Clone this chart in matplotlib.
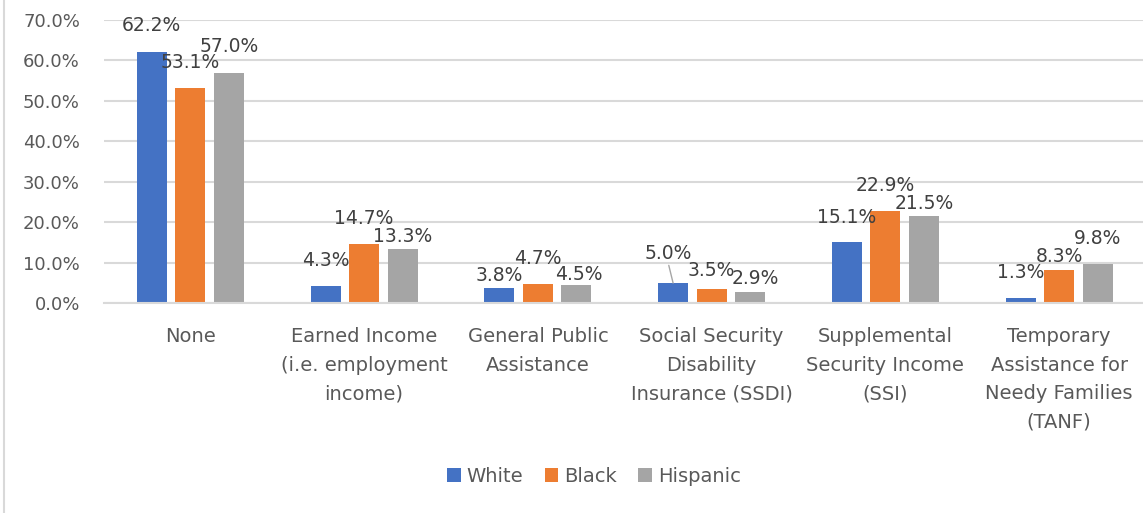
import numpy as np
import matplotlib.pyplot as plt
from matplotlib.ticker import PercentFormatter
from matplotlib.lines import Line2D

# income source by race (% of group)
categories = ["None",
              "Earned Income\n(i.e. employment\nincome)",
              "General Public\nAssistance",
              "Social Security\nDisability\nInsurance (SSDI)",
              "Supplemental\nSecurity Income\n(SSI)",
              "Temporary\nAssistance for\nNeedy Families\n(TANF)"]
groups = ["White", "Black", "Hispanic"]
white = [62.2, 4.3, 3.8, 5.0, 15.1, 1.3]
black = [53.1, 14.7, 4.7, 3.5, 22.9, 8.3]
hispanic = [57.0, 13.3, 4.5, 2.9, 21.5, 9.8]

colors = ["#4472C4", "#ED7D31", "#A5A5A5"]

# label nudges (pixels) so overlapping labels stay readable
label_dx = [[0, 0, 0, -5, 0, 0],
            [0, 0, 0, 0, 0, 0],
            [0, 0, 2, 5, 0, 0]]
label_dy = [[26, 25, 12, 30, 25, 26],
            [26, 25, 26, 19, 25, 13],
            [26, 13, 11, 13, 13, 25]]

plt.rcParams["font.family"] = "DejaVu Sans"

fig = plt.figure(figsize=(11.43, 5.13), dpi=100)
ax = fig.add_axes([103.5 / 1143, 1 - 303.3 / 513, 1042.5 / 1143, 283.3 / 513])

x = np.arange(len(categories))
width = 0.1727
step = 0.2217

for k, (vals, name, col) in enumerate(zip([white, black, hispanic], groups, colors)):
    xs = x + (k - 1) * step
    ax.bar(xs, vals, width, color=col, label=name, zorder=3)
    for i, v in enumerate(vals):
        if k == 0 and i == 3:
            # 5.0% label sits off to the side with a leader line
            ax.annotate("{0:.1f}%".format(v), xy=(xs[i], v),
                        xytext=(label_dx[k][i], label_dy[k][i]),
                        textcoords="offset pixels", ha="center", va="center",
                        fontsize=13.5, color="#404040", zorder=5,
                        arrowprops=dict(arrowstyle="-", color="#A6A6A6", lw=1,
                                        shrinkA=0, shrinkB=0, relpos=(0.5, 0)))
        else:
            ax.annotate("{0:.1f}%".format(v), xy=(xs[i], v),
                        xytext=(label_dx[k][i], label_dy[k][i]),
                        textcoords="offset pixels", ha="center", va="center",
                        fontsize=13.5, color="#404040", zorder=5)

ax.set_xlim(-0.5, len(categories) - 0.5)
ax.set_ylim(0, 70)
ax.set_yticks(np.arange(0, 71, 10))
ax.yaxis.set_major_formatter(PercentFormatter(xmax=100, decimals=1))
ax.set_xticks(x)
ax.set_xticklabels(categories, linespacing=1.64)
ax.tick_params(axis="y", length=0, pad=17, labelsize=13, labelcolor="#595959")
ax.tick_params(axis="x", length=0, pad=17, labelsize=14, labelcolor="#595959")

ax.grid(axis="y", color="#D9D9D9", lw=1.5, zorder=0)
for s in ["top", "right", "left"]:
    ax.spines[s].set_visible(False)
ax.spines["bottom"].set_color("#D9D9D9")
ax.spines["bottom"].set_linewidth(1.5)
ax.spines["bottom"].set_zorder(4)

fig.legend(loc="center", bbox_to_anchor=(594 / 1143, 1 - 476 / 513), ncol=3,
           frameon=False, fontsize=14, labelcolor="#595959",
           handlelength=0.7, handleheight=0.7, handletextpad=0.3,
           columnspacing=1.1)

# chart border on the left edge
fig.add_artist(Line2D([4 / 1143, 4 / 1143], [0, 1], color="#D9D9D9", lw=1.5))

plt.savefig("out.png", dpi=100)
